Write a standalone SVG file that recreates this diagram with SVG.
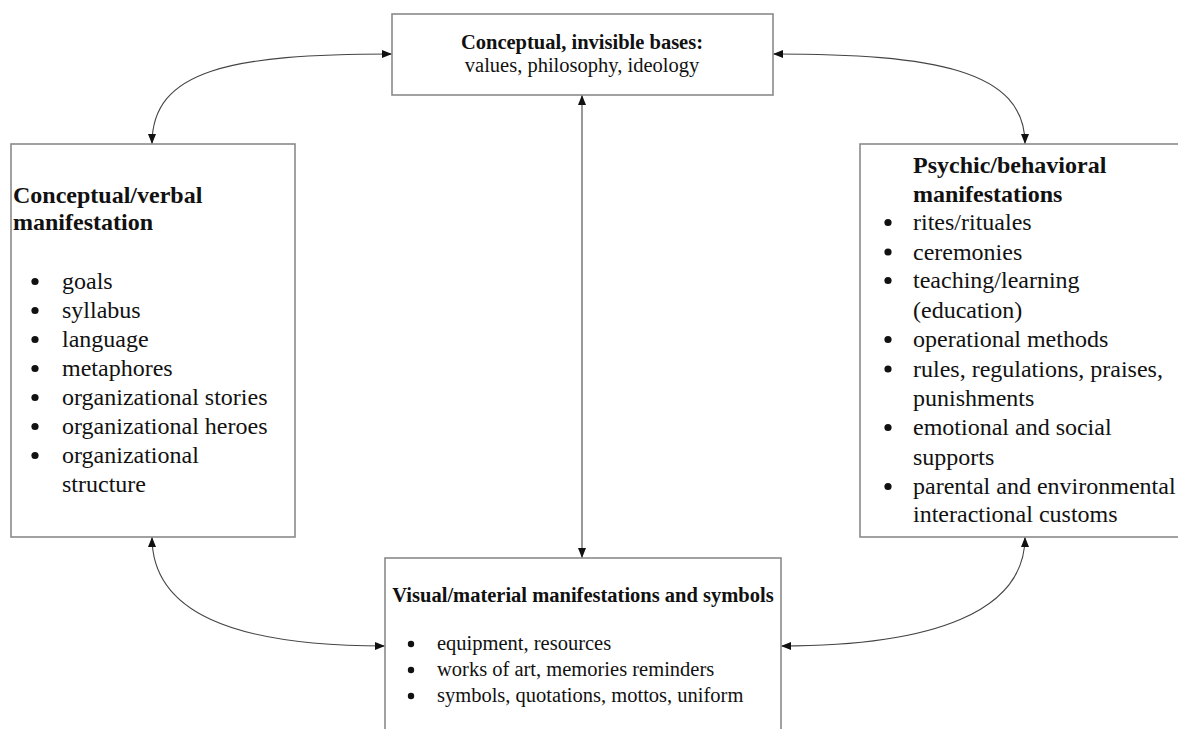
<svg xmlns="http://www.w3.org/2000/svg" width="1178" height="729" viewBox="0 0 1178 729">
<style>
.box{fill:#fff;stroke:#8a8a8a;stroke-width:1.6}
.t{font-family:"Liberation Serif","Times New Roman",serif;fill:#111}
.b{font-weight:bold}
.c{stroke:#444;stroke-width:1.1;fill:none;marker-start:url(#ah);marker-end:url(#ah)}
.dot{fill:#111}
</style>
<defs>
<marker id="ah" viewBox="0 0 10 8" refX="10" refY="4" markerWidth="10" markerHeight="8" markerUnits="userSpaceOnUse" orient="auto-start-reverse">
<path d="M0,0 L10,4 L0,8 z" fill="#111"/>
</marker>
</defs>
<rect width="1178" height="729" fill="#fff"/>
<g id="connectors">
<path class="c" d="M152,144 C152,70 230,54 392,54"/>
<path class="c" d="M1025,144 C1025,70 935,54 773,54"/>
<path class="c" d="M582,95 L582,558"/>
<path class="c" d="M152,537 C152,611 230,646 385,646"/>
<path class="c" d="M1025,537 C1025,611 935,646 781,646"/>
</g>
<g id="top">
<rect class="box" x="392" y="14" width="381" height="81"/>
<text class="t b" x="582" y="49" font-size="20.5" text-anchor="middle">Conceptual, invisible bases:</text>
<text class="t" x="582" y="72" font-size="20.5" text-anchor="middle">values, philosophy, ideology</text>
</g>
<g id="left" class="t" font-size="24">
<rect class="box" x="11" y="144" width="284" height="393"/>
<text class="b" x="13" y="203">Conceptual/verbal</text>
<text class="b" x="13" y="230">manifestation</text>
<g class="dot"><circle cx="35" cy="281.5" r="3.6"/><circle cx="35" cy="310.5" r="3.6"/><circle cx="35" cy="339.5" r="3.6"/><circle cx="35" cy="368.5" r="3.6"/><circle cx="35" cy="397.5" r="3.6"/><circle cx="35" cy="426.5" r="3.6"/><circle cx="35" cy="455.5" r="3.6"/></g>
<text x="62" y="289">goals</text>
<text x="62" y="318">syllabus</text>
<text x="62" y="347">language</text>
<text x="62" y="376">metaphores</text>
<text x="62" y="405">organizational stories</text>
<text x="62" y="434">organizational heroes</text>
<text x="62" y="463">organizational</text>
<text x="62" y="492">structure</text>
</g>
<g id="right" class="t" font-size="24">
<rect class="box" x="860" y="144" width="330" height="393"/>
<text class="b" x="913" y="173">Psychic/behavioral</text>
<text class="b" x="913" y="202">manifestations</text>
<g class="dot"><circle cx="888" cy="222.5" r="3.6"/><circle cx="888" cy="252" r="3.6"/><circle cx="888" cy="280.5" r="3.6"/><circle cx="888" cy="339.5" r="3.6"/><circle cx="888" cy="369" r="3.6"/><circle cx="888" cy="427.5" r="3.6"/><circle cx="888" cy="486.5" r="3.6"/></g>
<text x="913" y="230">rites/rituales</text>
<text x="913" y="259.5">ceremonies</text>
<text x="913" y="288">teaching/learning</text>
<text x="913" y="318">(education)</text>
<text x="913" y="347">operational methods</text>
<text x="913" y="376.5">rules, regulations, praises,</text>
<text x="913" y="406">punishments</text>
<text x="913" y="435">emotional and social</text>
<text x="913" y="464.5">supports</text>
<text x="913" y="494">parental and environmental</text>
<text x="913" y="522">interactional customs</text>
</g>
<g id="bottom" class="t" font-size="20.5">
<rect class="box" x="385" y="558" width="396" height="190"/>
<text class="b" x="583" y="602" text-anchor="middle">Visual/material manifestations and symbols</text>
<g class="dot"><circle cx="411" cy="644" r="3.2"/><circle cx="411" cy="670" r="3.2"/><circle cx="411" cy="696" r="3.2"/></g>
<text x="437" y="650">equipment, resources</text>
<text x="437" y="676">works of art, memories reminders</text>
<text x="437" y="702">symbols, quotations, mottos, uniform</text>
</g>
</svg>
